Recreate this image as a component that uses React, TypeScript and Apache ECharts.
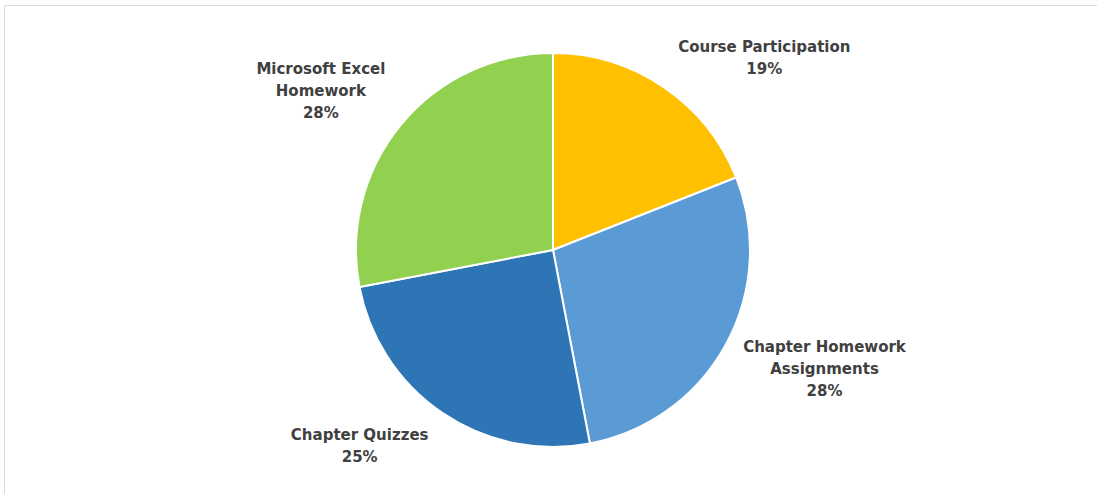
import React, { useEffect, useRef } from "react";
import * as echarts from "echarts";

const categories = [
  "Course Participation",
  "Chapter Homework Assignments",
  "Chapter Quizzes",
  "Microsoft Excel Homework",
];
const labelNames = [
  "Course Participation",
  "Chapter Homework\nAssignments",
  "Chapter Quizzes",
  "Microsoft Excel\nHomework",
];
const values = [19, 28, 25, 28];
const colors = ["#FFC000", "#5B9BD5", "#2E75B6", "#92D050"];
const labelOffsets = [
  [50, 45],
  [20, -19],
  [-32, -41],
  [-11, 24],
];

export default function App() {
  const ref = useRef<HTMLDivElement>(null);
  useEffect(() => {
    document.body.style.margin = "0";
    const chart = echarts.init(ref.current!, undefined, { renderer: "svg" });
    const data = categories.map((c, i) => ({
      name: c,
      value: values[i],
      itemStyle: { color: colors[i] },
    }));
    chart.setOption({
      animation: false,
      backgroundColor: "#ffffff",
      graphic: [
        {
          type: "rect",
          shape: { x: 4.5, y: 5.5, width: 1200, height: 600 },
          style: { fill: "none", stroke: "#D9D9D9", lineWidth: 1 },
          silent: true,
        },
      ],
      series: [
        {
          type: "pie",
          center: [553, 250],
          radius: 197,
          startAngle: 90,
          clockwise: true,
          label: { show: false },
          labelLine: { show: false },
          itemStyle: { borderColor: "#ffffff", borderWidth: 2 },
          emphasis: { disabled: true },
          data,
        },
        {
          type: "pie",
          center: [553, 250],
          radius: [270, 298],
          startAngle: 90,
          clockwise: true,
          silent: true,
          itemStyle: { color: "transparent" },
          labelLine: { show: false },
          emphasis: { disabled: true },
          label: {
            show: true,
            position: "inside",
            color: "#404040",
            fontFamily: "DejaVu Sans",
            fontWeight: "bold",
            fontSize: 15,
            lineHeight: 22,
            align: "center",
            formatter: (p: any) =>
              labelNames[p.dataIndex] + "\n" + Math.round(p.percent) + "%",
          },
          data: categories.map((c, i) => ({
            name: c,
            value: values[i],
            label: { offset: labelOffsets[i] },
          })),
        },
      ],
    });
    return () => chart.dispose();
  }, []);
  return <div ref={ref} style={{ width: 1097, height: 494 }} />;
}
